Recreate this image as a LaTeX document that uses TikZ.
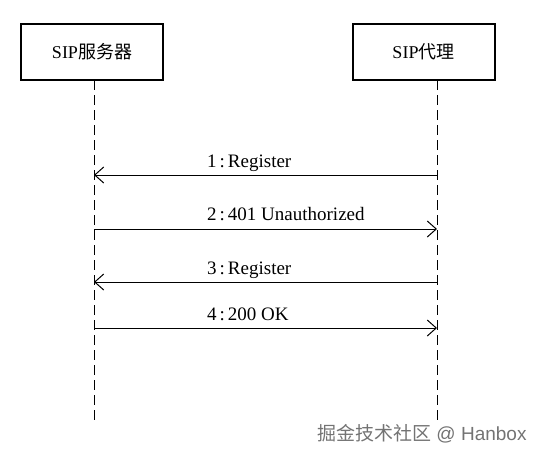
\documentclass[tikz,border=0pt]{standalone}
\usepackage{fontspec}
\setmainfont{Liberation Serif}
\newfontfamily\cjk{Noto Sans CJK SC}
\newfontfamily\wmfont{Liberation Sans}
\usetikzlibrary{arrows.meta,calc}

\begin{document}
\begin{tikzpicture}[x=1pt,y=-1pt,>={Straight Barb[length=9pt,width=16pt]},
      actor/.style={draw,line width=2pt,minimum width=142pt,minimum height=56pt,
        inner sep=0pt,font=\fontsize{18}{21}\selectfont},
      life/.style={dash pattern=on 10pt off 5pt,line width=1pt},
      msg/.style={->,line width=1pt},
      lbl/.style={anchor=base west,inner sep=0pt,font=\fontsize{19}{22}\selectfont}]
      \useasboundingbox (0,0) rectangle (540,453);

      \node[actor] (srv) at ( 92, 52) { SIP{\cjk 服务器} };
      \node[actor] (uac) at (423.5, 52) { SIP{\cjk 代理} };

      \coordinate (srvtop) at ( 94, 80);
      \coordinate (uactop) at (437, 80);
      \coordinate (srvend) at ( 94, 422);
      \coordinate (uacend) at (437, 422);

      % message points on both lifelines
      \coordinate (s1) at ( 94, 175); \coordinate (u1) at (437, 175);
      \coordinate (s2) at ( 94, 229); \coordinate (u2) at (437, 229);
      \coordinate (s3) at ( 94, 282); \coordinate (u3) at (437, 282);
      \coordinate (s4) at ( 94, 328); \coordinate (u4) at (437, 328);

      \draw[life] (srvtop) -- (srvend);
      \draw[life] (uactop) -- (uacend);

      \draw[msg] (u1) -- (s1);
      \draw[msg] (s2) -- (u2);
      \draw[msg] (u3) -- (s3);
      \draw[msg] (s4) -- (u4);

      \node[lbl] (m1) at (207, 167) { 1\kern3pt:\kern3pt Register };
      \node[lbl] (m2) at (207, 220) { 2\kern3pt:\kern3pt 401 Unauthorized };
      \node[lbl] (m3) at (207, 274) { 3\kern3pt:\kern3pt Register };
      \node[lbl] (m4) at (207, 320) { 4\kern3pt:\kern3pt 200 OK };

      \node[anchor=base west,inner sep=0pt,text=black!55,
        font=\fontsize{19}{22}\selectfont] (wm) at (317, 440)
        { {\cjk 掘金技术社区}\wmfont{} @ Hanbox };
\end{tikzpicture}
\end{document}
